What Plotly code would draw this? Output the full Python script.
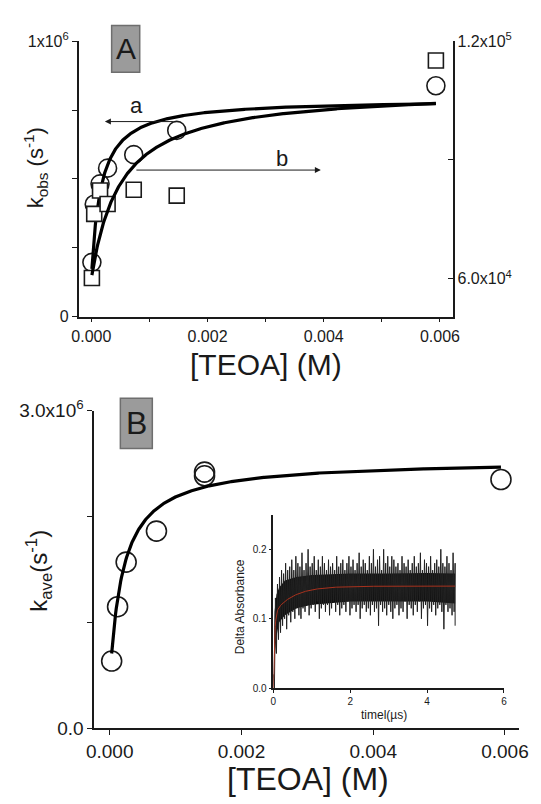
import numpy as np
import plotly.graph_objects as go

W, H = 541, 804
FONT = "Liberation Sans, Arial, sans-serif"
INK = "#1a1a1a"

# ---------------- Panel A: k_obs vs [TEOA] ----------------
teoa_a = [0.00001, 0.00005, 0.00015, 0.00028, 0.00073, 0.00147, 0.00593]
kobs_circ = [1.97e5, 4.08e5, 4.82e5, 5.39e5, 5.88e5, 6.76e5, 8.38e5]      # left axis (a)
kobs_sq = [6.02e4, 7.64e4, 8.23e4, 7.89e4, 8.25e4, 8.10e4, 1.151e5]       # right axis (b)

# saturation fits  k = k0 + A*x/(x+K)
fit_a = {"k0": 1.35e5, "A": 6.55e5, "K": 0.00016}
fit_b = {"k0": 6.0e4, "A": 4.8e4, "K": 0.0005}

# ---------------- Panel B: k_ave vs [TEOA] ----------------
teoa_b = [0.00003, 0.00012, 0.00025, 0.00071, 0.00144, 0.00144, 0.00594]
kave = [6.33e5, 1.147e6, 1.569e6, 1.862e6, 2.385e6, 2.42e6, 2.35e6]
fit_ave = {"k0": 4.3e5, "A": 2.106e6, "K": 0.0002}

# ---------------- Inset: transient absorbance trace ----------------
trace_tmax = 4.73
trace_hi = [0.02, 0.13, 0.15, 0.16, 0.17, 0.165, 0.18, 0.17, 0.175, 0.185,
            0.17, 0.19, 0.18, 0.175, 0.195, 0.17, 0.18, 0.20, 0.175, 0.18,
            0.19, 0.17, 0.185, 0.175, 0.19, 0.18, 0.17, 0.185, 0.175, 0.18,
            0.17, 0.19, 0.175, 0.18, 0.185, 0.17, 0.18, 0.19, 0.175, 0.185,
            0.17, 0.18, 0.195, 0.175, 0.185, 0.18, 0.17, 0.19, 0.18, 0.20,
            0.175, 0.185, 0.19, 0.17, 0.20, 0.18, 0.19, 0.175, 0.19, 0.185,
            0.175, 0.18, 0.17, 0.19, 0.18, 0.175, 0.185, 0.17, 0.18, 0.19,
            0.175, 0.18, 0.195, 0.17, 0.185, 0.18, 0.175, 0.19, 0.17, 0.18,
            0.185, 0.175, 0.20, 0.18, 0.175, 0.19, 0.18, 0.17, 0.195, 0.18]
trace_lo = [0.0, 0.05, 0.07, 0.08, 0.09, 0.10, 0.085, 0.105, 0.095, 0.11,
            0.10, 0.115, 0.105, 0.10, 0.115, 0.11, 0.12, 0.105, 0.115, 0.12,
            0.11, 0.125, 0.10, 0.115, 0.12, 0.11, 0.12, 0.105, 0.115, 0.125,
            0.11, 0.12, 0.105, 0.115, 0.12, 0.11, 0.125, 0.105, 0.115, 0.12,
            0.11, 0.12, 0.10, 0.115, 0.12, 0.11, 0.115, 0.105, 0.12, 0.11,
            0.115, 0.09, 0.12, 0.11, 0.115, 0.105, 0.12, 0.11, 0.10, 0.115,
            0.12, 0.105, 0.115, 0.11, 0.125, 0.10, 0.12, 0.115, 0.105, 0.12,
            0.11, 0.125, 0.10, 0.115, 0.12, 0.09, 0.115, 0.11, 0.12, 0.105,
            0.115, 0.12, 0.11, 0.085, 0.12, 0.11, 0.115, 0.105, 0.11, 0.09]
# dense core of the trace
core_t = [0.0, 0.03, 0.08, 0.15, 0.3, 0.6, 1.0, 2.0, 3.0, 4.0, 4.73]
core_hi = [0.0, 0.11, 0.135, 0.145, 0.155, 0.16, 0.163, 0.165, 0.165, 0.166, 0.165]
core_lo = [0.0, 0.04, 0.075, 0.095, 0.105, 0.115, 0.12, 0.125, 0.125, 0.125, 0.122]
# biexponential rise fit
fit_tr = {"inf": 0.147, "a1": 0.107, "t1": 0.03, "a2": 0.040, "t2": 0.5}


def sat(x, p):
    x = np.asarray(x)
    return p["k0"] + p["A"] * x / (x + p["K"])


fig = go.Figure()

# Panel A markers and fits
fig.add_trace(go.Scatter(x=teoa_a, y=kobs_circ, mode="markers", xaxis="x", yaxis="y",
                         marker=dict(symbol="circle-open", size=18, color=INK,
                                     line=dict(width=1.6, color=INK)),
                         showlegend=False))
xa = np.linspace(teoa_a[0], teoa_a[-1], 600)
fig.add_trace(go.Scatter(x=xa, y=sat(xa, fit_a), mode="lines", xaxis="x", yaxis="y",
                         line=dict(color="#000", width=3.2), showlegend=False))
fig.add_trace(go.Scatter(x=teoa_a, y=kobs_sq, mode="markers", xaxis="x", yaxis="y2",
                         marker=dict(symbol="square", size=15, color="white",
                                     line=dict(width=1.6, color=INK)),
                         showlegend=False))
fig.add_trace(go.Scatter(x=xa, y=sat(xa, fit_b), mode="lines", xaxis="x", yaxis="y2",
                         line=dict(color="#000", width=3.2), showlegend=False))

# Panel B markers and fit
fig.add_trace(go.Scatter(x=teoa_b, y=kave, mode="markers", xaxis="x2", yaxis="y3",
                         marker=dict(symbol="circle-open", size=20, color=INK,
                                     line=dict(width=1.6, color=INK)),
                         showlegend=False))
xb = np.linspace(teoa_b[0], teoa_b[-1], 600)
fig.add_trace(go.Scatter(x=xb, y=sat(xb, fit_ave), mode="lines", xaxis="x2", yaxis="y3",
                         line=dict(color="#000", width=3.2), showlegend=False))

# Inset trace: dense core band plus zig-zag between successive peaks and troughs
fig.add_trace(go.Scatter(x=core_t + core_t[::-1], y=core_hi + core_lo[::-1],
                         mode="lines", fill="toself", fillcolor="#0d0d0d",
                         line=dict(width=0, color="#0d0d0d"),
                         xaxis="x3", yaxis="y4", showlegend=False, hoverinfo="skip"))
n = len(trace_hi)
t_hi = np.linspace(0.0, trace_tmax, n)
dt = t_hi[1] - t_hi[0]
t_zz, v_zz = [], []
for i in range(n):
    t_zz += [t_hi[i], min(t_hi[i] + dt / 2, trace_tmax)]
    v_zz += [trace_hi[i], trace_lo[i]]
fig.add_trace(go.Scatter(x=t_zz, y=v_zz, mode="lines", xaxis="x3", yaxis="y4",
                         line=dict(color="#222", width=1), showlegend=False))
tf = np.linspace(0, trace_tmax, 400)
vf = fit_tr["inf"] - fit_tr["a1"] * np.exp(-tf / fit_tr["t1"]) - fit_tr["a2"] * np.exp(-tf / fit_tr["t2"])
fig.add_trace(go.Scatter(x=tf, y=vf, mode="lines", xaxis="x3", yaxis="y4",
                         line=dict(color="#a8321e", width=1), showlegend=False))


def px_x(p):
    return p / W


def px_y(p):
    return 1 - p / H


axis_common = dict(showgrid=False, zeroline=False, showline=True, linecolor=INK,
                   linewidth=1.5, tickcolor=INK, tickwidth=1.2, color=INK)

fig.update_layout(
    width=W, height=H, margin=dict(l=0, r=0, t=0, b=0),
    paper_bgcolor="white", plot_bgcolor="rgba(0,0,0,0)",
    font=dict(family=FONT, color=INK),
    xaxis=dict(domain=[px_x(73), px_x(459)], anchor="y",
               range=[-0.000217, 0.006217],
               tickvals=[0, 0.002, 0.004, 0.006],
               ticktext=["0.000", "0.002", "0.004", "0.006"],
               ticks="outside", ticklen=4, tickfont=dict(size=16),
               minor=dict(tickvals=[0.001, 0.003, 0.005], ticks="outside", ticklen=4,
                          tickcolor=INK, tickwidth=1.2),
               **axis_common),
    yaxis=dict(domain=[px_y(313), px_y(29)], anchor="x", range=[0, 1e6],
               tickvals=[0, 1e6], ticktext=["0", "1x10<sup>6</sup>"],
               ticks="outside", ticklen=5, tickfont=dict(size=16),
               minor=dict(tickvals=[2.5e5, 5e5, 7.5e5], ticks="outside", ticklen=5,
                          tickcolor=INK, tickwidth=1.2),
               **axis_common),
    yaxis2=dict(overlaying="y", side="right", anchor="x", range=[50449, 1.2e5],
                tickvals=[6e4, 1.2e5],
                ticktext=["6.0x10<sup>4</sup>", "1.2x10<sup>5</sup>"],
                ticks="inside", ticklen=5, tickfont=dict(size=16),
                minor=dict(tickvals=[9e4], ticks="inside", ticklen=5,
                           tickcolor=INK, tickwidth=1.2),
                **axis_common),
    xaxis2=dict(domain=[px_x(89), px_x(528)], anchor="y3",
                range=[-0.000235, 0.00622],
                tickvals=[0, 0.002, 0.004, 0.006],
                ticktext=["0.000", "0.002", "0.004", "0.006"],
                ticks="outside", ticklen=5, tickfont=dict(size=19), **axis_common),
    yaxis3=dict(domain=[px_y(737), px_y(410)], anchor="x2", range=[0, 3e6],
                tickvals=[0, 3e6], ticktext=["0.0", "3.0x10<sup>6</sup>"],
                ticks="outside", ticklen=5, tickfont=dict(size=19),
                minor=dict(tickvals=[1e6, 2e6], ticks="outside", ticklen=5,
                           tickcolor=INK, tickwidth=1.2),
                **axis_common),
    xaxis3=dict(domain=[px_x(274), px_x(512)], anchor="y4", range=[0, 6],
                tickvals=[0, 2, 4, 6], ticks="outside", ticklen=3,
                tickfont=dict(size=10), **axis_common),
    yaxis4=dict(domain=[px_y(696), px_y(517)], anchor="x3", range=[0, 0.25],
                tickvals=[0, 0.1, 0.2], ticktext=["0.0", "0.1", "0.2"],
                ticks="outside", ticklen=3, tickfont=dict(size=10), **axis_common),
)

shapes = []
for (x0, y0, x1, y1) in [(107, 13, 136, 61), (116, 397, 149, 449)]:
    shapes.append(dict(type="rect", xref="paper", yref="paper",
                       x0=px_x(x0), x1=px_x(x1), y0=px_y(y1), y1=px_y(y0),
                       fillcolor="#9b9b9b", line=dict(color="#6e6e6e", width=1.5)))
fig.update_layout(shapes=shapes)

ann = [
    dict(text="k<sub>obs</sub> (s<sup>-1</sup>)", x=px_x(28), y=px_y(160), textangle=-90,
         font=dict(size=22)),
    dict(text="[TEOA] (M)", x=px_x(266), y=px_y(362), font=dict(size=30)),
    dict(text="k<sub>ave</sub>(s<sup>-1</sup>)", x=px_x(32), y=px_y(575), textangle=-90,
         font=dict(size=24)),
    dict(text="[TEOA] (M)", x=px_x(310), y=px_y(790), font=dict(size=32)),
    dict(text="A", x=px_x(121.5), y=px_y(37), font=dict(size=30)),
    dict(text="B", x=px_x(132.5), y=px_y(423), font=dict(size=32)),
    dict(text="Delta Absorbance", x=px_x(239), y=px_y(612), textangle=-90,
         font=dict(size=12)),
    dict(text="timel(µs)", x=px_x(388), y=px_y(724), font=dict(size=12)),
]
for a in ann:
    a.update(xref="paper", yref="paper", showarrow=False, xanchor="center", yanchor="middle")

# arrows pointing to the axis each curve belongs to
ann += [
    dict(x=0.000233, y=7.08e5, ax=0.00143, ay=7.08e5, xref="x", yref="y",
         axref="x", ayref="y", showarrow=True, arrowhead=2, arrowsize=1.2,
         arrowwidth=1, arrowcolor=INK, text=""),
    dict(x=0.00395, y=5.32e5, ax=0.00075, ay=5.32e5, xref="x", yref="y",
         axref="x", ayref="y", showarrow=True, arrowhead=2, arrowsize=1.2,
         arrowwidth=1, arrowcolor=INK, text=""),
    dict(text="a", x=0.00078, y=7.68e5, xref="x", yref="y", showarrow=False,
         font=dict(size=22)),
    dict(text="b", x=0.00328, y=5.74e5, xref="x", yref="y", showarrow=False,
         font=dict(size=22)),
]
fig.update_layout(annotations=ann)

fig.write_html("out.html")
